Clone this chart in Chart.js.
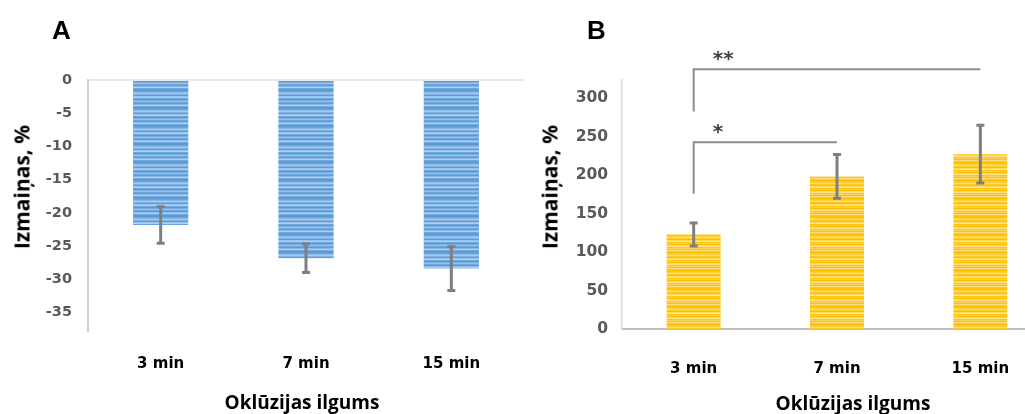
<!DOCTYPE html>
<html>
<head>
<meta charset="utf-8">
<script src="https://cdn.jsdelivr.net/npm/chart.js@4"></script>
<style>
  body { margin: 0; width: 1025px; height: 414px; overflow: hidden; background: #fff; position: relative; }
  .box { position: absolute; top: 0; height: 414px; }
  #boxA { left: 0; width: 525px; }
  #boxB { left: 525px; width: 545px; }
  .lbl { position: absolute; font: bold 26px "Liberation Sans", Arial, sans-serif; line-height: 26px; color: #000; }
  .ttl { position: absolute; font: bold 19px "Open Sans", sans-serif; line-height: 19px; color: #000; white-space: nowrap; transform: translate(-50%, -50%); }
  .ytt { font-size: 21px; line-height: 21px; transform: translate(-50%, -50%) rotate(-90deg); }
</style>
</head>
<body>
<div class="box" id="boxA"><canvas id="chartA"></canvas></div>
<div class="box" id="boxB"><canvas id="chartB"></canvas></div>

<div class="lbl" style="left:52px; top:17px;">A</div>
<div class="lbl" style="left:587px; top:17px;">B</div>

<div class="ttl ytt" style="left:22px; top:187px;">Izmaiņas, %</div>
<div class="ttl ytt" style="left:550px; top:187px;">Izmaiņas, %</div>
<div class="ttl" style="left:302px; top:402px;">Oklūzijas ilgums</div>
<div class="ttl" style="left:853px; top:403px;">Oklūzijas ilgums</div>

<script>
//Datos
const categories = ['3 min', '7 min', '15 min'];

//Panel A
const valuesA = [-21.85, -26.85, -28.4];
const errorsA = [2.75, 2.15, 3.3];
const ticksA = [0, -5, -10, -15, -20, -25, -30, -35];

//Panel B
const valuesB = [123, 198.5, 227.5];
const errorsB = [15, 28.5, 37.5];
const ticksB = [0, 50, 100, 150, 200, 250, 300];

//Corchetes de significancia (panel B)
const bracketFrom = [0, 0];
const bracketTo = [1, 2];
const bracketTop = [243, 338];
const bracketBase = [176, 283];
const bracketText = ['*', '**'];

//Rayas de las barras
const blueRows = ['#5b9bd5', '#6ea7dc', '#8ab8e5', '#a9cbee', '#7fb0e0', '#5f9cd8', '#98c0e8', '#b3d0ef',
  '#6aa4dc', '#5b9bd5', '#7aaddf', '#9cc2ea', '#6ea7dd', '#5d9bd6', '#8cb8e5', '#b0cfef', '#72a9de', '#5b9bd5'];
const yellowRows = ['#ffc000', '#ffc616', '#ffd044', '#ffdc78', '#ffc92a', '#ffc000', '#ffd964', '#ffe69c',
  '#ffc50e', '#ffcf3c', '#ffc000', '#ffd656', '#ffe28c', '#ffc51a', '#ffd25a', '#ffc000', '#ffdf80', '#ffc82a'];

function stripes(canvasId, rows) {
  const c = document.createElement('canvas');
  c.width = 8;
  c.height = rows.length;
  const g = c.getContext('2d');
  rows.forEach((col, i) => { g.fillStyle = col; g.fillRect(0, i, 8, 1); });
  return document.getElementById(canvasId).getContext('2d').createPattern(c, 'repeat');
}

//Barras de error
const errorBars = {
  id: 'errorBars',
  afterDatasetsDraw(chart, args, opts) {
    const ctx = chart.ctx;
    const y = chart.scales.y;
    const vals = chart.data.datasets[0].data;
    const meta = chart.getDatasetMeta(0);
    ctx.save();
    ctx.strokeStyle = '#7f7f7f';
    ctx.lineWidth = 3;
    meta.data.forEach((bar, i) => {
      const top = y.getPixelForValue(vals[i] + opts.errors[i]);
      const bot = y.getPixelForValue(vals[i] - opts.errors[i]);
      ctx.beginPath();
      ctx.moveTo(bar.x, top); ctx.lineTo(bar.x, bot);
      ctx.moveTo(bar.x - 4, top); ctx.lineTo(bar.x + 4, top);
      ctx.moveTo(bar.x - 4, bot); ctx.lineTo(bar.x + 4, bot);
      ctx.stroke();
    });
    ctx.restore();
  }
};

//Corchetes
const brackets = {
  id: 'brackets',
  afterDraw(chart) {
    const ctx = chart.ctx;
    const x = chart.scales.x;
    const y = chart.scales.y;
    ctx.save();
    bracketFrom.forEach((from, i) => {
      const x0 = x.getPixelForValue(from);
      const x1 = x.getPixelForValue(bracketTo[i]);
      const yl = y.getPixelForValue(bracketTop[i]);
      const yb = y.getPixelForValue(bracketBase[i]);
      ctx.strokeStyle = '#8c8c8c';
      ctx.lineWidth = 2;
      ctx.beginPath();
      ctx.moveTo(x0, yb);
      ctx.lineTo(x0, yl);
      ctx.lineTo(x1, yl);
      ctx.stroke();
      ctx.fillStyle = '#404040';
      ctx.font = 'bold 20px "DejaVu Sans"';
      ctx.textAlign = 'left';
      ctx.textBaseline = 'alphabetic';
      ctx.fillText(bracketText[i], x0 + 19, yl - 4);
    });
    ctx.restore();
  }
};

const tickFont = size => ({ family: 'DejaVu Sans', weight: 'bold', size: size });

//Grafica A
const chartA = new Chart(document.getElementById('chartA'), {
  type: 'bar',
  data: {
    labels: categories,
    datasets: [{
      data: valuesA,
      backgroundColor: stripes('chartA', blueRows),
      borderWidth: 0,
      barPercentage: 0.38,
      categoryPercentage: 1
    }]
  },
  options: {
    responsive: true,
    maintainAspectRatio: false,
    animation: false,
    events: [],
    layout: { padding: { top: 80, right: 1, bottom: 0, left: 0 } },
    plugins: {
      legend: { display: false },
      tooltip: { enabled: false },
      errorBars: { errors: errorsA }
    },
    scales: {
      x: {
        grid: { display: false, drawTicks: false },
        border: { display: false },
        ticks: { color: '#000', font: tickFont(15), padding: 24 },
        afterFit: s => { s.height = 83; }
      },
      y: {
        min: -37.8,
        max: 0,
        grid: {
          drawTicks: false,
          lineWidth: 2,
          color: c => c.tick && c.tick.value === 0 ? '#e8e8e8' : 'rgba(0,0,0,0)'
        },
        border: { color: '#d0d0d0', width: 2 },
        ticks: { color: '#595959', font: tickFont(14.5), padding: 16 },
        afterBuildTicks: s => { s.ticks = ticksA.map(v => ({ value: v })); },
        afterFit: s => { s.width = 88; }
      }
    }
  },
  plugins: [errorBars]
});

//Grafica B
const chartB = new Chart(document.getElementById('chartB'), {
  type: 'bar',
  data: {
    labels: categories,
    datasets: [{
      data: valuesB,
      backgroundColor: stripes('chartB', yellowRows),
      borderWidth: 0,
      barPercentage: 0.377,
      categoryPercentage: 1
    }]
  },
  options: {
    responsive: true,
    maintainAspectRatio: false,
    animation: false,
    events: [],
    layout: { padding: { top: 80, right: 18, bottom: 0, left: 0 } },
    plugins: {
      legend: { display: false },
      tooltip: { enabled: false },
      errorBars: { errors: errorsB }
    },
    scales: {
      x: {
        grid: { display: false, drawTicks: false },
        border: { color: '#bfbfbf', width: 2 },
        ticks: { color: '#000', font: tickFont(15), padding: 31 },
        afterFit: s => { s.height = 85; }
      },
      y: {
        min: 0,
        max: 324,
        grid: { display: false, drawTicks: false },
        border: { color: '#d9d9d9', width: 1.5 },
        ticks: { color: '#595959', font: tickFont(15.5), padding: 14 },
        afterBuildTicks: s => { s.ticks = ticksB.map(v => ({ value: v })); },
        afterFit: s => { s.width = 97; }
      }
    }
  },
  plugins: [errorBars, brackets]
});
</script>
</body>
</html>
